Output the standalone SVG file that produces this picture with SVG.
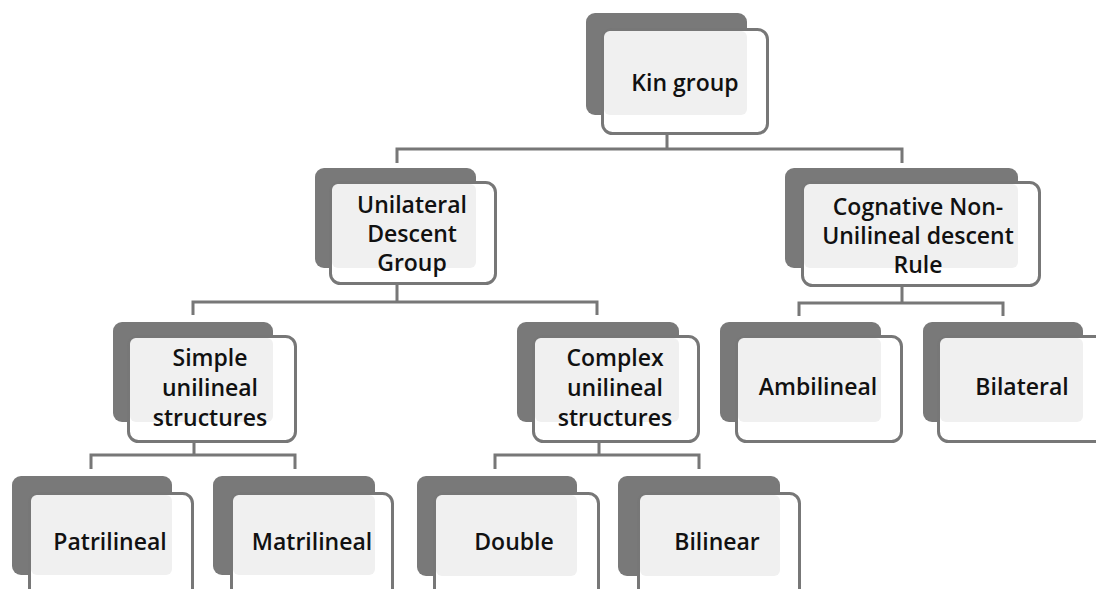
<svg xmlns="http://www.w3.org/2000/svg" width="1096" height="589" viewBox="0 0 1096 589">
<style>
.bg{fill:#ffffff}
.dk{fill:#797979}
.fr{fill:#ffffff;stroke:#777777;stroke-width:3}
.lt{fill:#f0f0f0}
.cn{fill:none;stroke:#777777;stroke-width:3}
.t{font-family:"Open Sans","Liberation Sans",sans-serif;font-weight:600;font-size:23px;fill:#111111;text-anchor:middle}
</style>
<rect class="bg" x="0" y="0" width="1096" height="589"/>
<g id="connectors">
<path class="cn" d="M667,135 V149 M397,163 V149 H902 V163"/>
<path class="cn" d="M397,285 V302 M193,315 V302 H597 V315"/>
<path class="cn" d="M902,287 V303 M799,316 V303 H1003 V316"/>
<path class="cn" d="M194,443 V455 M91,469 V455 H295 V469"/>
<path class="cn" d="M599,443 V455 M495,469 V455 H699 V469"/>
</g>
<g id="kin">
<rect class="dk" x="586" y="13" width="161" height="102" rx="9"/>
<rect class="fr" x="602.5" y="29.5" width="165" height="104" rx="10"/>
<rect class="lt" x="604" y="31" width="143" height="84" rx="6"/>
<text class="t" x="685" y="91">Kin group</text>
</g>
<g id="unilateral">
<rect class="dk" x="315" y="168" width="161" height="100" rx="9"/>
<rect class="fr" x="330.5" y="182.5" width="165" height="101" rx="10"/>
<rect class="lt" x="332" y="184" width="144" height="84" rx="6"/>
<text class="t" x="412" y="213">Unilateral</text>
<text class="t" x="412" y="242">Descent</text>
<text class="t" x="412" y="271">Group</text>
</g>
<g id="cognative">
<rect class="dk" x="785" y="168" width="233" height="100" rx="9"/>
<rect class="fr" x="802.5" y="182.5" width="237" height="103" rx="10"/>
<rect class="lt" x="804" y="184" width="214" height="84" rx="6"/>
<text class="t" x="918" y="215">Cognative Non-</text>
<text class="t" x="918" y="244">Unilineal descent</text>
<text class="t" x="918" y="273">Rule</text>
</g>
<g id="simple">
<rect class="dk" x="113" y="322" width="160" height="100" rx="9"/>
<rect class="fr" x="128.5" y="336.5" width="167" height="105" rx="10"/>
<rect class="lt" x="130" y="338" width="143" height="84" rx="6"/>
<text class="t" x="210" y="366">Simple</text>
<text class="t" x="210" y="396">unilineal</text>
<text class="t" x="210" y="426">structures</text>
</g>
<g id="complex">
<rect class="dk" x="517" y="322" width="162" height="100" rx="9"/>
<rect class="fr" x="533.5" y="336.5" width="165" height="105" rx="10"/>
<rect class="lt" x="535" y="338" width="144" height="84" rx="6"/>
<text class="t" x="615" y="366">Complex</text>
<text class="t" x="615" y="396">unilineal</text>
<text class="t" x="615" y="426">structures</text>
</g>
<g id="ambilineal">
<rect class="dk" x="720" y="322" width="161" height="100" rx="9"/>
<rect class="fr" x="736.5" y="336.5" width="165" height="105" rx="10"/>
<rect class="lt" x="738" y="338" width="143" height="84" rx="6"/>
<text class="t" x="818" y="395">Ambilineal</text>
</g>
<g id="bilateral">
<rect class="dk" x="923" y="322" width="160" height="100" rx="9"/>
<rect class="fr" x="938.5" y="336.5" width="167" height="105" rx="10"/>
<rect class="lt" x="940" y="338" width="143" height="84" rx="6"/>
<text class="t" x="1022" y="395">Bilateral</text>
</g>
<g id="patrilineal">
<rect class="dk" x="12" y="476" width="160" height="99" rx="9"/>
<rect class="fr" x="29.5" y="493.5" width="163" height="120" rx="10"/>
<rect class="lt" x="31" y="495" width="141" height="80" rx="6"/>
<text class="t" x="110" y="550">Patrilineal</text>
</g>
<g id="matrilineal">
<rect class="dk" x="213" y="476" width="162" height="99" rx="9"/>
<rect class="fr" x="231.5" y="493.5" width="161" height="120" rx="10"/>
<rect class="lt" x="233" y="495" width="142" height="80" rx="6"/>
<text class="t" x="312" y="550">Matrilineal</text>
</g>
<g id="double">
<rect class="dk" x="417" y="476" width="160" height="100" rx="9"/>
<rect class="fr" x="434.5" y="493.5" width="164" height="120" rx="10"/>
<rect class="lt" x="436" y="495" width="141" height="81" rx="6"/>
<text class="t" x="514" y="550">Double</text>
</g>
<g id="bilinear">
<rect class="dk" x="618" y="476" width="162" height="100" rx="9"/>
<rect class="fr" x="638.5" y="493.5" width="161" height="120" rx="10"/>
<rect class="lt" x="640" y="495" width="140" height="81" rx="6"/>
<text class="t" x="717" y="550">Bilinear</text>
</g>
</svg>
